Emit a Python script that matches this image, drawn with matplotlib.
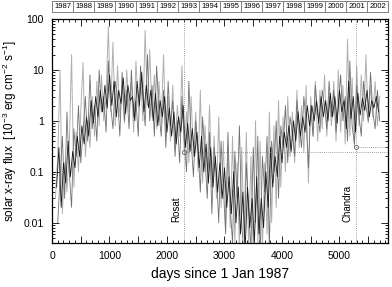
import numpy as np
import matplotlib
matplotlib.use("Agg")
import matplotlib.pyplot as plt
from matplotlib.ticker import FixedLocator, MultipleLocator, NullFormatter, LogLocator

plt.rcParams['font.family'] = ['Liberation Sans', 'DejaVu Sans']
plt.rcParams['mathtext.default'] = 'regular'

# ---- data ----
years = [str(y) for y in range(1987, 2003)]
days_per_year = [365, 366, 365, 365, 365, 366, 365, 365, 365, 366, 365, 365, 365, 366, 365, 365]

gray_start, gray_step = 60, 40
gray_flux = [
    0.03, 0.2, 10, 0.015, 0.15, 0.04, 0.3, 20, 0.05, 0.6,
    0.1, 1.5, 14, 0.2, 1.0, 0.3, 3, 0.5, 6, 0.8,
    8, 1.0, 3, 70, 1.5, 35, 0.8, 12, 1.2, 5,
    0.9, 10, 1.5, 6, 0.6, 15, 1.8, 8, 1.0, 60,
    2, 25, 1.2, 8, 0.7, 6, 0.9, 20, 0.5, 3,
    0.4, 5, 0.3, 2, 0.5, 12, 0.25, 1.5, 0.15, 3,
    0.2, 1.5, 0.1, 4, 0.06, 0.8, 0.1, 2, 0.05, 0.5,
    0.03, 1.2, 0.02, 0.4, 0.01, 0.3, 0.008, 0.5, 0.004, 0.15,
    0.003, 0.3, 0.005, 0.6, 0.003, 0.2, 0.002, 1.0, 0.004, 0.4,
    0.003, 0.15, 0.006, 1.5, 0.01, 0.8, 0.02, 2.5, 0.05, 1.2,
    0.1, 3, 0.2, 1.5, 0.15, 4, 0.3, 2, 0.25, 5,
    0.06, 3, 0.5, 6, 0.4, 4, 0.7, 8, 0.5, 3,
    0.8, 6, 0.4, 10, 0.6, 5, 0.35, 40, 0.5, 7,
    0.3, 12, 0.8, 8, 1.0, 20, 0.9, 5, 1.2, 6,
    0.8, 3,
]

mid_start, mid_step = 100, 40
mid_flux = [
    0.01, 0.08, 0.5, 0.03, 1.5, 0.1, 0.02, 0.7, 0.2, 2,
    0.15, 0.6, 3, 0.4, 8, 0.7, 2, 0.4, 10, 1.5,
    3, 0.6, 15, 2, 0.7, 6, 3, 0.5, 9, 1.0,
    4, 0.7, 10, 1.2, 2.5, 0.5, 12, 3, 0.8, 20,
    1.0, 5, 0.5, 12, 1.5, 0.5, 4, 0.3, 6, 0.8,
    2.5, 0.2, 1.0, 0.15, 3, 0.4, 0.1, 6, 0.4, 0.08,
    1.0, 0.3, 0.04, 1.2, 0.2, 0.03, 0.6, 0.015, 0.3, 0.1,
    0.01, 0.4, 0.05, 0.006, 0.6, 0.02, 0.004, 0.25, 0.03, 0.8,
    0.01, 0.002, 0.15, 0.02, 0.003, 0.3, 0.01, 0.5, 0.002, 0.2,
    0.04, 0.5, 0.003, 0.4, 0.1, 1.0, 0.03, 0.8, 0.3, 2,
    0.15, 1.2, 0.6, 0.2, 2.5, 0.8, 0.3, 3, 1.0, 0.12,
    2, 0.5, 5, 1.5, 0.6, 4, 2, 0.7, 6, 1.2,
    4, 0.6, 2, 8, 1.0, 3, 0.4, 15, 0.8, 0.35,
    5, 1.2, 0.5, 6, 2, 1.0, 9, 1.5, 0.7, 4,
    1.0,
]

black_start, black_step = 80, 40
black_flux = [
    0.05, 0.3, 0.02, 0.15, 0.06, 0.4, 0.08, 0.25, 0.12, 0.5,
    0.2, 0.8, 0.35, 1.2, 0.5, 2.5, 0.9, 3, 1.2, 4,
    1.5, 5, 1.8, 8, 2, 6, 1.2, 4, 2.2, 7,
    1.4, 5, 2.5, 3, 1.0, 6, 2, 9, 1.5, 5,
    1.8, 4, 1.0, 3.5, 0.8, 2.5, 1.2, 3, 0.6, 1.8,
    0.5, 1.5, 0.35, 1.2, 0.6, 2, 0.3, 0.9, 0.25, 0.7,
    0.2, 0.6, 0.12, 0.5, 0.1, 0.35, 0.06, 0.3, 0.05, 0.2,
    0.04, 0.15, 0.03, 0.12, 0.02, 0.08, 0.015, 0.1, 0.01, 0.05,
    0.006, 0.04, 0.003, 0.05, 0.008, 0.03, 0.004, 0.08, 0.006, 0.03,
    0.008, 0.1, 0.02, 0.3, 0.05, 0.2, 0.08, 0.5, 0.15, 0.6,
    0.3, 0.8, 0.25, 1.0, 0.4, 1.5, 0.5, 1.2, 0.6, 2,
    0.8, 2, 1.0, 2.5, 0.9, 3, 1.2, 2.5, 1.0, 3.5,
    1.2, 3, 0.9, 4, 1.5, 2.5, 0.7, 6, 1.1, 3,
    0.6, 3.5, 1.3, 2.8, 1.6, 4, 1.2, 2.5, 1.8, 3,
    1.5,
]

missions = ['Rosat', 'Chandra']
mission_day = [2304, 5290]
mission_flux = [0.245, 0.30]

ytick_vals = [0.01, 0.1, 1, 10, 100]
ytick_labels = ['0.01', '0.1', '1', '10', '100']

# ---- figure ----
W, H = 392, 287
fig = plt.figure(figsize=(W / 100, H / 100), dpi=100)
L, R, T, B = 52, 388, 19, 243
ax = fig.add_axes([L / W, 1 - B / H, (R - L) / W, (B - T) / H])

gray_days = np.arange(len(gray_flux)) * gray_step + gray_start
mid_days = np.arange(len(mid_flux)) * mid_step + mid_start
black_days = np.arange(len(black_flux)) * black_step + black_start
ax.plot(gray_days, gray_flux, color='#b0b0b0', lw=0.7, zorder=2)
ax.plot(mid_days, mid_flux, color='#707070', lw=0.6, zorder=2.5)
ax.plot(black_days, black_flux, color='#181818', lw=0.6, zorder=3)

xmax = float(sum(days_per_year))
ax.set_xlim(0, xmax)
ax.set_yscale('log')
ax.set_ylim(0.004, 100)

# mission markers
for name, d, f in zip(missions, mission_day, mission_flux):
    ax.axvline(d, color='#808080', lw=0.6, ls=(0, (1, 1.5)), zorder=4)
    ax.plot([d, xmax], [f, f], color='#808080', lw=0.6, ls=(0, (1, 1.5)), zorder=4)
    ax.plot([d], [f], marker='o', ms=3, mfc='none', mec='#606060', mew=0.6, zorder=5)
    ax.text(d - 60, 0.0105, name, rotation=90, ha='right', va='bottom', fontsize=7)

ax.yaxis.set_major_locator(FixedLocator(ytick_vals))
ax.set_yticklabels(ytick_labels)
ax.yaxis.set_minor_locator(LogLocator(base=10, subs=np.arange(2, 10)))
ax.yaxis.set_minor_formatter(NullFormatter())

ax.xaxis.set_major_locator(MultipleLocator(500))
ax.xaxis.set_minor_locator(MultipleLocator(100))
ax.set_xticklabels([str(int(v)) if v % 1000 == 0 else '' for v in ax.get_xticks()])
ax.tick_params(which='both', direction='in', top=True, right=True, labelsize=7.5, width=0.6)
ax.tick_params(which='major', length=5)
ax.tick_params(which='minor', length=2.5)
ax.tick_params(axis='x', pad=6)
ax.tick_params(axis='y', pad=6)
for s in ax.spines.values():
    s.set_linewidth(0.9)

ax.set_xlabel('days since 1 Jan 1987', fontsize=10, labelpad=4)
ax.set_ylabel('solar x-ray flux  [10$^{-3}$ erg cm$^{-2}$ s$^{-1}$]', fontsize=8.5, labelpad=3)

# ---- year bar ----
yb = fig.add_axes([L / W, 1 - 12 / H, (R - L) / W, 11.5 / H])
yb.set_xlim(0, xmax)
yb.set_ylim(0, 1)
edges = np.concatenate([[0], np.cumsum(days_per_year)])
for i, yname in enumerate(years):
    if i > 0:
        yb.axvline(edges[i], color='#808080', lw=0.7)
    yb.text((edges[i] + edges[i + 1]) / 2, 0.45, yname, ha='center', va='center', fontsize=5.5)
yb.set_xticks([])
yb.set_yticks([])
for s in yb.spines.values():
    s.set_color('#808080')
    s.set_linewidth(0.7)

fig.savefig('out.png', dpi=100)
